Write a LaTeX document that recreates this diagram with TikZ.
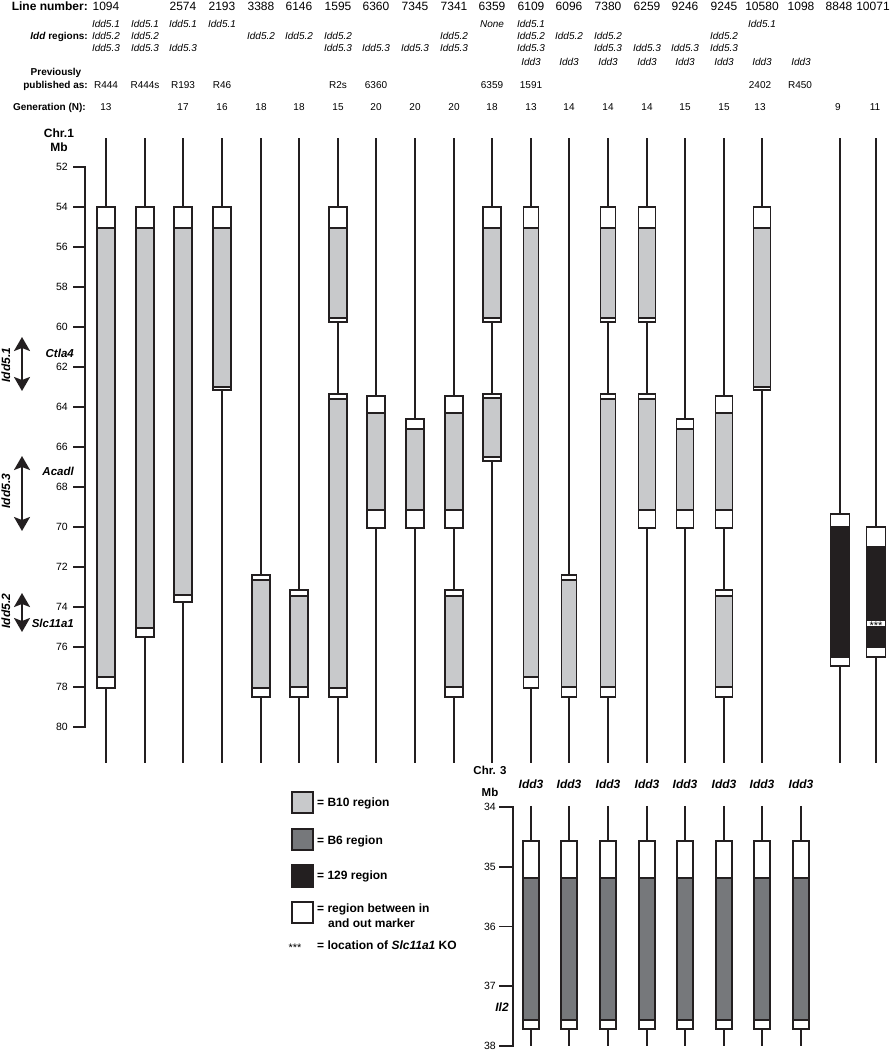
\documentclass[tikz,border=0pt]{standalone}
\usepackage{fontspec}
\setmainfont{Liberation Sans}
\usetikzlibrary{arrows.meta}

\definecolor{inkline}{HTML}{231F20}
\definecolor{bten}{HTML}{C8C9CB}
\definecolor{bsix}{HTML}{76787B}
\definecolor{onetwonine}{HTML}{231F20}

% one chromosome: x, bar width, line top, line bottom, segments y1/y2/fill
\newcommand{\chrom}[5]{%
  \draw[chrline] (#1,#3) -- (#1,#4);
  \foreach \ya/\yb/\fc in {#5}
    \filldraw[segbox, fill=\fc] ({#1-#2/2},\ya) rectangle ({#1+#2/2},\yb);
}

\begin{document}
\begin{tikzpicture}[x=1pt,y=-1pt,
  chrline/.style={draw=inkline, line width=1.6pt},
  segbox/.style={draw=inkline, line width=1.9pt},
  axisline/.style={draw=inkline, line width=1.9pt},
  hdrbig/.style={anchor=base, inner sep=0pt, font=\fontsize{12}{14}\selectfont},
  hdrtxt/.style={anchor=base, inner sep=0pt, font=\fontsize{10}{12}\selectfont},
  hdridd/.style={anchor=base, inner sep=0pt, font=\fontsize{10}{12}\selectfont\itshape},
  ticklab/.style={anchor=east, inner sep=0pt, font=\fontsize{10.5}{12}\selectfont},
  genelab/.style={anchor=base east, inner sep=0pt, font=\fontsize{11.5}{13}\selectfont\bfseries\itshape},
  regionlab/.style={anchor=base, rotate=90, inner sep=0pt, font=\fontsize{12}{14}\selectfont\bfseries\itshape},
  iddarrow/.style={draw=inkline, line width=2pt, {Stealth[length=14pt,width=16pt,inset=3pt]}-{Stealth[length=14pt,width=16pt,inset=3pt]}},
  legbox/.style={draw=inkline, line width=1.6pt},
  legtxt/.style={anchor=base west, inner sep=0pt, font=\fontsize{12}{14}\selectfont\bfseries},
  ko/.style={anchor=base, inner sep=0pt, font=\fontsize{11}{12}\selectfont}]
\useasboundingbox (0,0) rectangle (890,1050);

% header rows
\node[hdrbig, anchor=base east, font=\fontsize{12}{14}\selectfont\bfseries] (linehd) at (88,10) {Line number:};
\foreach \cx/\lab [count=\i] in {106/1094,183/2574,222/2193,261/3388,299/6146,338/1595,376/6360,415/7345,454/7341,492/6359,531/6109,569/6096,608/7380,647/6259,685/9246,724/9245,762/10580,801/1098,839/8848,873/10071}
  \node[hdrbig] (line\i) at (\cx,10) {\lab};

\node[hdrtxt, anchor=base east, font=\fontsize{10}{12}\selectfont\bfseries] (iddhd) at (88,39.6) {\textit{Idd} regions:};
\foreach \cx [count=\i] in {106,145,183,222,531,762}
  \node[hdridd] (iddA\i) at (\cx,27.6) {Idd5.1};
\node[hdridd] (iddnone) at (492,27.6) {None};
\foreach \cx [count=\i] in {106,145,261,299,338,454,531,569,608,724}
  \node[hdridd] (iddB\i) at (\cx,39.6) {Idd5.2};
\foreach \cx [count=\i] in {106,145,183,338,376,415,454,531,608,647,685,724}
  \node[hdridd] (iddC\i) at (\cx,51.6) {Idd5.3};
\foreach \cx [count=\i] in {531,569,608,647,685,724,762,801}
  \node[hdridd] (iddD\i) at (\cx,65.6) {Idd3};

\node[hdrtxt, font=\fontsize{10}{12}\selectfont\bfseries] (prevhd) at (56,75.6) {Previously};
\node[hdrtxt, anchor=base east, font=\fontsize{10}{12}\selectfont\bfseries] (pubhd) at (88,88.6) {published as:};
\foreach \cx/\lab [count=\i] in {106/R444,145/R444s,183/R193,222/R46,338/R2s,376/6360,492/6359,531/1591,760/2402,800/R450}
  \node[hdrtxt] (pub\i) at (\cx,88.6) {\lab};

\node[hdrtxt, anchor=base east, font=\fontsize{10}{12}\selectfont\bfseries] (genhd) at (86,110.6) {Generation (N):};
\foreach \cx/\lab [count=\i] in {106/13,183/17,222/16,261/18,299/18,338/15,376/20,415/20,454/20,492/18,531/13,569/14,608/14,647/14,685/15,724/15,760/13,838/9,875/11}
  \node[hdrtxt] (gen\i) at (\cx,110.6) {\lab};

\node[hdrbig, font=\fontsize{12}{14}\selectfont\bfseries] (chrone) at (59,137.3) {Chr.1};
\node[hdrbig, font=\fontsize{12}{14}\selectfont\bfseries] (mbone) at (59,151.3) {Mb};

% Idd intervals on the left
\coordinate (iddAtop) at (22,337); \coordinate (iddAbot) at (22,391);
\coordinate (iddCtop) at (22,456); \coordinate (iddCbot) at (22,531);
\coordinate (iddBtop) at (22,593); \coordinate (iddBbot) at (22,632);
\draw[iddarrow] (iddAtop) -- (iddAbot);
\draw[iddarrow] (iddCtop) -- (iddCbot);
\draw[iddarrow] (iddBtop) -- (iddBbot);
\node[regionlab] (regA) at (10,365) {Idd5.1};
\node[regionlab] (regC) at (10,491) {Idd5.3};
\node[regionlab] (regB) at (10,611) {Idd5.2};
\node[genelab] (ctla) at (74,357) {Ctla4};
\node[genelab] (acadl) at (74,475) {Acadl};
\node[genelab] (slc) at (74,627) {Slc11a1};

% chromosome 1, y in Mb (52 Mb at 167pt, 20pt per Mb)
\begin{scope}[y=-20pt, yshift=873pt]
  \draw[axisline] (73,52) -- (85,52) -- (85,80) -- (73,80);
  \foreach \t in {54,56,...,78}
    \draw[axisline] (73,\t) -- (85,\t);
  \foreach \t in {52,54,...,80}
    \node[ticklab] (tick\t) at (68,\t) {\t};
  \chrom{106}{18}{50.55}{81.8}{54/55.07/white, 55.07/77.48/bten, 77.48/78.03/white}
  \chrom{145}{18}{50.55}{81.8}{54/55.07/white, 55.07/75.03/bten, 75.03/75.5/white}
  \chrom{183}{18}{50.55}{81.8}{54/55.07/white, 55.07/73.4/bten, 73.4/73.77/white}
  \chrom{222}{18}{50.55}{81.8}{54/55.07/white, 55.07/62.98/bten, 62.98/63.15/white}
  \chrom{261}{18}{50.55}{81.8}{72.4/72.65/white, 72.65/78.07/bten, 78.07/78.48/white}
  \chrom{299}{18}{50.55}{81.8}{73.15/73.45/white, 73.45/78.02/bten, 78.02/78.48/white}
  \chrom{338}{18}{50.55}{81.8}{54/55.07/white, 55.07/59.53/bten, 59.53/59.73/white, 63.35/63.58/white, 63.58/78.07/bten, 78.07/78.48/white}
  \chrom{376}{18}{50.55}{81.8}{63.45/64.28/white, 64.28/69.15/bten, 69.15/70.03/white}
  \chrom{415}{18}{50.55}{81.8}{64.58/65.12/white, 65.12/69.15/bten, 69.15/70.03/white}
  \chrom{454}{18}{50.55}{81.8}{63.45/64.28/white, 64.28/69.15/bten, 69.15/70.03/white, 73.15/73.45/white, 73.45/78.02/bten, 78.02/78.48/white}
  \chrom{492}{18}{50.55}{81.8}{54/55.07/white, 55.07/59.53/bten, 59.53/59.73/white, 63.35/63.57/white, 63.57/66.48/bten, 66.48/66.68/white}
  \chrom{531}{15}{50.55}{81.8}{54/55.07/white, 55.07/77.48/bten, 77.48/78.07/white}
  \chrom{569}{15}{50.55}{81.8}{72.4/72.65/white, 72.65/78.02/bten, 78.02/78.48/white}
  \chrom{608}{15}{50.55}{81.8}{54/55.07/white, 55.07/59.53/bten, 59.53/59.73/white, 63.35/63.58/white, 63.58/78.02/bten, 78.02/78.48/white}
  \chrom{647}{17}{50.55}{81.8}{54/55.07/white, 55.07/59.53/bten, 59.53/59.73/white, 63.35/63.58/white, 63.58/69.15/bten, 69.15/70.03/white}
  \chrom{685}{17}{50.55}{81.8}{64.58/65.12/white, 65.12/69.15/bten, 69.15/70.03/white}
  \chrom{724}{17}{50.55}{81.8}{63.45/64.28/white, 64.28/69.15/bten, 69.15/70.03/white, 73.15/73.45/white, 73.45/78.02/bten, 78.02/78.48/white}
  \chrom{762}{17}{50.55}{81.8}{54/55.07/white, 55.07/62.98/bten, 62.98/63.15/white}
  \chrom{840}{19}{50.55}{81.8}{69.37/69.98/white, 69.98/76.48/onetwonine, 76.48/76.95/white}
  \chrom{876}{19}{50.55}{81.8}{70.02/71.02/white, 71.02/74.65/onetwonine, 74.65/75.02/white, 75.02/75.98/onetwonine, 75.98/76.52/white}
  \node[ko] (kosite) at (876,75.14) {***};
\end{scope}

% legend
\draw[legbox, fill=bten] (292,792) rectangle (313,813);
\draw[legbox, fill=bsix] (292,829) rectangle (313,850);
\draw[legbox, fill=onetwonine] (292,865) rectangle (313,887);
\draw[legbox, fill=white] (292,902) rectangle (313,923);
\node[legtxt] (legbten) at (317,806.5) {= B10 region};
\node[legtxt] (legbsix) at (317,844) {= B6 region};
\node[legtxt] (legonetwonine) at (317,879.5) {= 129 region};
\node[legtxt] (legwhiteA) at (317,912) {= region between in};
\node[legtxt] (legwhiteB) at (328,927) {and out marker};
\node[ko] (legkostar) at (295,951.3) {***};
\node[legtxt] (legko) at (317,949) {= location of \textit{Slc11a1} KO};

% chromosome 3, y in Mb (34 Mb at 807pt, 59.75pt per Mb)
\node[hdrbig, font=\fontsize{11.5}{13}\selectfont\bfseries] (chrthree) at (490,774) {Chr. 3};
\node[hdrbig, font=\fontsize{11.5}{13}\selectfont\bfseries] (mbthree) at (490,796) {Mb};
\foreach \cx [count=\i] in {531,569,608,647,685,724,762,801}
  \node[hdrbig, font=\fontsize{12}{14}\selectfont\bfseries\itshape] (iddthree\i) at (\cx,788.5) {Idd3};
\node[hdrbig, font=\fontsize{12}{14}\selectfont\bfseries\itshape] (iltwo) at (502,1011) {Il2};
\begin{scope}[y=-59.75pt, yshift=1224.5pt]
  \draw[axisline] (499,34) -- (513,34) -- (513,38) -- (499,38);
  \foreach \t in {35,36,37}
    \draw[axisline] (499,\t) -- (513,\t);
  \foreach \t in {34,...,38}
    \node[ticklab] (cthree\t) at (496,\t) {\t};
  \foreach \cx in {531,569,608,647,685,724,762,801} {
    \chrom{\cx}{16}{33.98}{38}{34.57/35.19/white, 35.19/37.56/bsix, 37.56/37.72/white}
  }
\end{scope}
\end{tikzpicture}
\end{document}
